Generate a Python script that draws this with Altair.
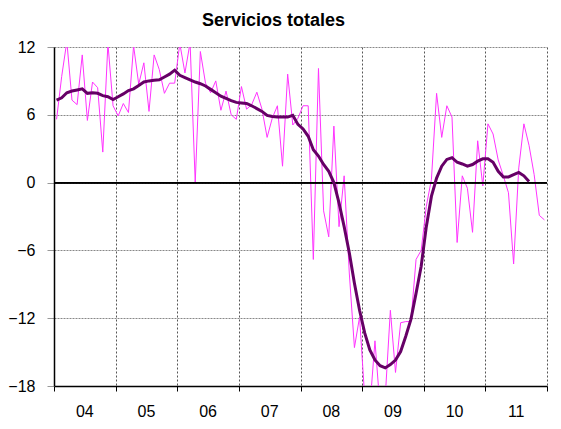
import altair as alt
import pandas as pd

# Monthly series (Jan 2004 - Dec 2011)
serie = [5.6, 9.4, 12.5, 7.3, 6.9, 11.3, 5.5, 8.9, 8.4, 2.7, 12.3, 6.8,
         5.9, 7.0, 6.2, 12.1, 8.7, 10.6, 6.3, 11.3, 10.0, 7.9, 8.8, 8.8,
         12.3, 9.7, 12.4, 0.0, 11.6, 8.8, 7.95, 9.0, 6.4, 8.1, 6.0, 5.6,
         8.5, 6.5, 6.9, 8.0, 6.5, 4.0, 5.7, 6.8, 1.45, 9.6, 5.1, 5.7,
         6.8, 6.8, -6.8, 10.1, -2.5, -4.8, 5.0, -3.9, 0.6, -8.0, -14.6, -11.9,
         -19.0, -20.0, -14.0, -20.0, -19.0, -11.3, -16.8, -12.4, -12.3, -12.3, -6.8, -6.0,
         -2.1, 0.3, 7.9, 4.0, 6.8, 5.8, -5.3, 0.6, -0.5, -4.4, 3.7, -0.3,
         5.2, 4.3, 2.0, 0.6, -0.9, -7.2, 1.3, 5.2, 3.3, 0.7, -2.9, -3.3]

# Trend (Jan 2004 - Sep 2011)
tendencia = [7.3, 7.5, 7.95, 8.1, 8.2, 8.3, 7.9, 7.95, 7.9, 7.7, 7.6, 7.35,
             7.6, 7.85, 8.15, 8.3, 8.6, 8.9, 9.0, 9.05, 9.1, 9.35, 9.6, 9.95,
             9.5, 9.3, 9.1, 8.9, 8.75, 8.55, 8.25, 7.95, 7.65, 7.45, 7.25, 7.1,
             7.05, 7.0, 6.8, 6.55, 6.3, 5.95, 5.85, 5.8, 5.8, 5.8, 5.95, 5.15,
             4.75, 4.1, 2.9, 2.35, 1.6, 1.0, 0.0, -1.8, -3.9, -6.2, -8.9, -11.3,
             -13.3, -14.8, -15.7, -16.2, -16.4, -16.1, -15.7, -14.95, -13.6, -12.1, -9.8, -7.4,
             -3.9, -1.2, 0.4, 1.45, 2.05, 2.2, 1.8, 1.65, 1.45, 1.6, 1.9, 2.1,
             2.1, 1.8, 1.0, 0.5, 0.5, 0.7, 0.9, 0.6, 0.1]

year_labels = ["04", "05", "06", "07", "08", "09", "10", "11"]
y_ticks = [-18, -12, -6, 0, 6, 12]

FONT = "Liberation Sans"

df_s = pd.DataFrame({"t": [2004 + (i + 0.5) / 12 for i in range(len(serie))], "v": serie})
df_t = pd.DataFrame({"t": [2004 + (i + 0.5) / 12 for i in range(len(tendencia))], "v": tendencia})
df_y = pd.DataFrame({"t": [2004.5 + k for k in range(len(year_labels))], "lab": year_labels})

xscale = alt.Scale(domain=[2004, 2012], nice=False, zero=False)
yscale = alt.Scale(domain=[-18, 12], nice=False, zero=False)

xaxis = alt.Axis(values=list(range(2004, 2013)), labels=False, title=None,
                 grid=True, gridColor="#555555", gridDash=[2, 2], gridWidth=1,
                 ticks=True, tickSize=5, tickColor="#000000",
                 domainColor="#000000", domainWidth=1.5)
yaxis = alt.Axis(values=y_ticks, title=None, labelFont=FONT, labelFontSize=16,
                 labelColor="#000000", labelPadding=12,
                 grid=True, gridColor="#888888", gridDash=[2, 1], gridWidth=1,
                 ticks=True, tickSize=7, tickColor="#999999",
                 domainColor="#000000", domainWidth=1.5)

base_x = alt.X("t:Q", scale=xscale, axis=xaxis)
base_y = alt.Y("v:Q", scale=yscale, axis=yaxis)

line_s = alt.Chart(df_s).mark_line(color="#FF33FF", strokeWidth=1, clip=True).encode(x=base_x, y=base_y)
line_t = alt.Chart(df_t).mark_line(color="#660066", strokeWidth=3, clip=True).encode(x="t:Q", y="v:Q")
zero = alt.Chart(df_y).mark_rule(color="#000000", strokeWidth=1.2).encode(y=alt.datum(0))
labels = alt.Chart(df_y).mark_text(font=FONT, fontSize=16, color="#000000", dy=26,
                                   baseline="middle", align="center").encode(
    x="t:Q", y=alt.datum(-18), text="lab:N")

chart = alt.layer(line_s, zero, line_t, labels).properties(
    width=493, height=339,
    title=alt.TitleParams("Servicios totales", font=FONT, fontSize=18, fontWeight="bold",
                          anchor="middle", dx=-27, offset=9, color="#000000"),
    autosize=alt.AutoSizeParams(type="none"),
    padding={"left": 46, "top": 39, "right": 6, "bottom": 35},
).configure_view(stroke=None)

chart.save("out.html", embed_options={"renderer": "svg", "actions": False})
